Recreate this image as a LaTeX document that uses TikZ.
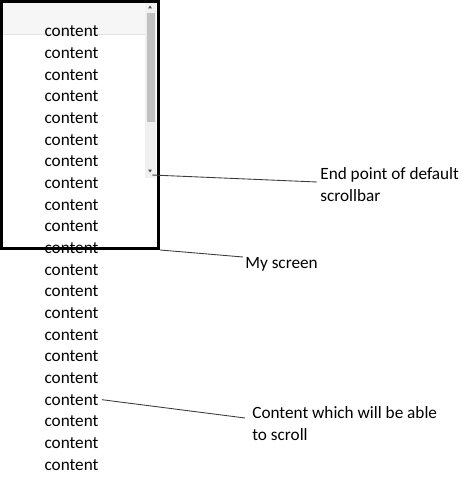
\documentclass[tikz,border=0pt]{standalone}
\usepackage{fontspec}
\setmainfont{Carlito}
\usetikzlibrary{positioning,calc}
\definecolor{cHeadF}{HTML}{F6F6F6}
\definecolor{cHeadD}{HTML}{E2E2E2}
\definecolor{cTrackF}{HTML}{F0F0F0}
\definecolor{cThumbF}{HTML}{C1C1C1}
\definecolor{cArrowT}{HTML}{505050}
\definecolor{cLineD}{HTML}{3C3C3C}
\tikzset{
  item/.style   = {anchor=base, inner sep=0pt, font=\fontsize{9.8}{12}\selectfont},
  note/.style   = {inner sep=0pt, align=left, font=\fontsize{9.8}{12.5}\selectfont},
  screenbox/.style = {draw=black, line width=0.06cm, minimum width=3.14cm,
                  minimum height=4.94cm, inner sep=0pt},
  leader/.style = {cLineD, line width=0.5pt},
}

\begin{document}
\begin{tikzpicture}[x=0.02cm, y=-0.02cm]
  \useasboundingbox (0,0) rectangle (474,500);
  % header strip and scrollbar
  \fill[cHeadF] (3,3) rectangle (145,34);
  \draw[cHeadD, line width=0.4pt] (3,34) -- (145,34);
  \fill[cTrackF] (145,3) rectangle (156,178);
  \fill[cThumbF] (147,13) rectangle (155,122);
  \fill[cArrowT] (150,5.5) -- (152,8.5) -- (148,8.5) -- cycle;
  \fill[cArrowT] (148,169.5) -- (152,169.5) -- (150,172.5) -- cycle;
  \coordinate (sbend) at (152,175);
  % list
  \foreach \i in {1,...,21}
    \node[item] (c\i) at (71.5,{37+(\i-1)*21.65}) {content};
  \node[screenbox] (screen) at (80,125) {};
  % labels
  \node[note, anchor=north west] (endlbl) at (320,167) {End point of default\\scrollbar};
  \node[note, anchor=base west] (scrlbl) at (245,268) {My screen};
  \node[note, anchor=north west] (movelbl) at (252,406) {Content which will be able\\to scroll};
  \draw[leader] (sbend) -- ([xshift=-0.06cm, yshift=-0.3cm]endlbl.north west);
  \draw[leader] (screen.south east) -- ([xshift=-0.04cm, yshift=0.22cm]scrlbl.base west);
  \draw[leader] ([xshift=0.06cm]c18.east) -- ([xshift=-0.14cm, yshift=-0.24cm]movelbl.north west);
\end{tikzpicture}
\end{document}
